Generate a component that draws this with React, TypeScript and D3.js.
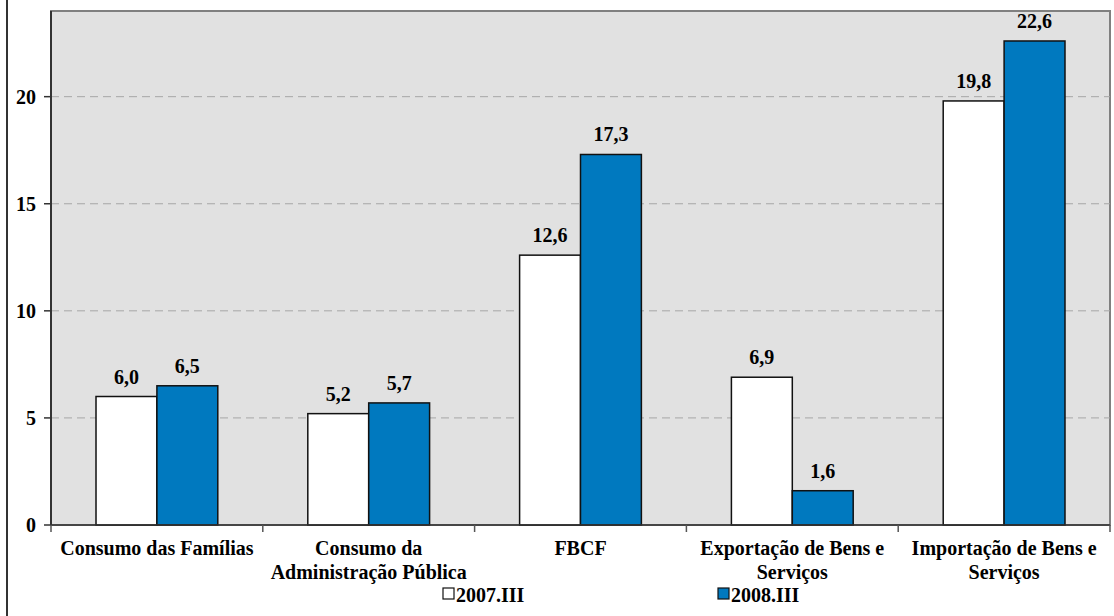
import React from 'react';
import * as d3 from 'd3';

const categories = [
  ['Consumo das Famílias'],
  ['Consumo da', 'Administração Pública'],
  ['FBCF'],
  ['Exportação de Bens e', 'Serviços'],
  ['Importação de Bens e', 'Serviços'],
];
const series2007 = [6.0, 5.2, 12.6, 6.9, 19.8];
const series2008 = [6.5, 5.7, 17.3, 1.6, 22.6];
const seriesNames = ['2007.III', '2008.III'];
const seriesColors = ['#ffffff', '#0079bf'];
const yTicks = [0, 5, 10, 15, 20];

const W = 1114;
const H = 616;
const left = 51;
const right = 1110;
const top = 11;
const bottom = 525;
const font = '"Liberation Serif", "Times New Roman", serif';
const fs = 20;

export default function App() {
  const x = d3.scaleBand<number>()
    .domain(d3.range(categories.length))
    .range([left, right])
    .paddingInner(0.425)
    .paddingOuter(0.2125);
  const y = d3.scaleLinear().domain([0, 24]).range([bottom, top]);
  const bw = x.bandwidth() / 2;
  const step = x.step();
  const fmt = (v: number) => v.toFixed(1).replace('.', ',');

  const series = [series2007, series2008];

  return (
    <svg width={W} height={H} style={{ position: 'absolute', left: 0, top: 0, fontFamily: font }}>
      <rect x={0} y={0} width={W} height={H} fill="#fff" />
      <line x1={7} x2={7} y1={0} y2={H} stroke="#333" strokeWidth={2} />
      <rect x={left} y={top} width={right - left} height={bottom - top} fill="#e1e1e1" stroke="#808080" strokeWidth={2} />

      {yTicks.filter(t => t > 0).map(t => (
        <line key={'g' + t} x1={left} x2={right} y1={y(t)} y2={y(t)} stroke="#a6a6a6" strokeDasharray="8,5" />
      ))}

      {series.map((vals, si) => vals.map((v, i) => {
        const bx = (x(i) as number) + si * bw;
        return (
          <g key={`b${si}-${i}`}>
            <rect x={bx} y={y(v)} width={bw} height={bottom - y(v)} fill={seriesColors[si]} stroke="#111" strokeWidth={1.5} />
            <text x={bx + bw / 2} y={y(v) - 13} textAnchor="middle" fontSize={fs} fontWeight="bold">{fmt(v)}</text>
          </g>
        );
      }))}

      {/* axes */}
      <line x1={left} x2={left} y1={top} y2={bottom} stroke="#333" strokeWidth={2} />
      <line x1={left} x2={right} y1={bottom} y2={bottom} stroke="#333" strokeWidth={1.5} />
      {yTicks.map(t => (
        <g key={'t' + t}>
          <line x1={left - 7} x2={left} y1={y(t)} y2={y(t)} stroke="#333" strokeWidth={1.5} />
          <text x={left - 15} y={y(t) + 7} textAnchor="end" fontSize={fs} fontWeight="bold">{t}</text>
        </g>
      ))}
      {d3.range(categories.length + 1).map(i => (
        <line key={'ct' + i} x1={left + i * step} x2={left + i * step} y1={bottom} y2={bottom + 7} stroke="#555" strokeWidth={1.5} />
      ))}
      {categories.map((lines, i) => (
        <text key={'c' + i} x={(x(i) as number) + x.bandwidth() / 2} y={555} textAnchor="middle" fontSize={fs} fontWeight="bold">
          {lines.map((l, j) => (
            <tspan key={j} x={(x(i) as number) + x.bandwidth() / 2} dy={j === 0 ? 0 : 24}>{l}</tspan>
          ))}
        </text>
      ))}

      {/* legend */}
      {seriesNames.map((n, i) => {
        const lx = [443, 718][i];
        return (
          <g key={'l' + i}>
            <rect x={lx} y={588} width={11} height={11} fill={seriesColors[i]} stroke="#111" strokeWidth={1.2} />
            <text x={lx + 13} y={602} fontSize={fs} fontWeight="bold">{n}</text>
          </g>
        );
      })}
    </svg>
  );
}
